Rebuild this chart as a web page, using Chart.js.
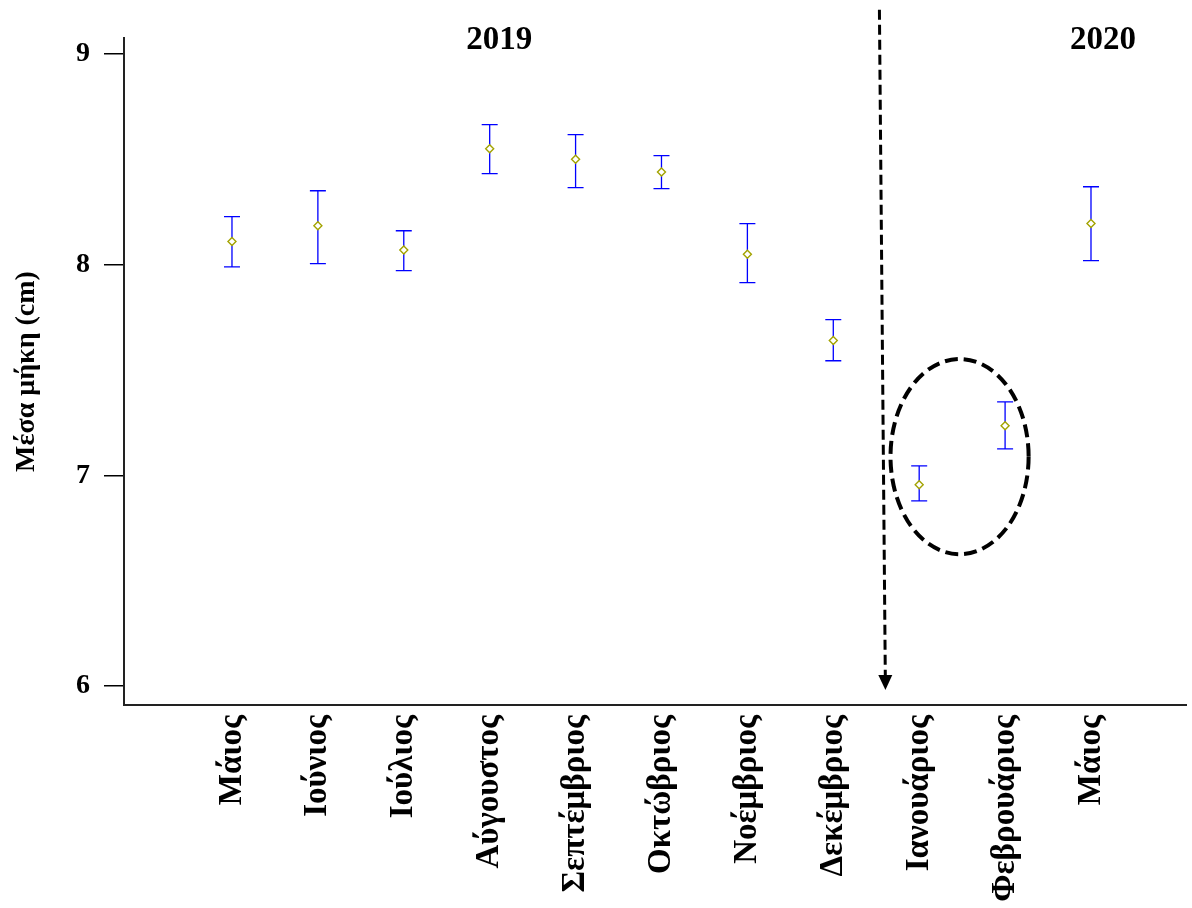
<!DOCTYPE html>
<html>
<head>
<meta charset="utf-8">
<script src="https://cdn.jsdelivr.net/npm/chart.js@4.4.1/dist/chart.umd.min.js"></script>
<style>
  html, body { margin: 0; padding: 0; background: #fff; }
  #wrap { width: 1192px; height: 908px; }
</style>
</head>
<body>
<div id="wrap"><canvas id="c" width="1192" height="908"></canvas></div>
<script>
// ---- data ----
const months = ["Μάιος", "Ιούνιος", "Ιούλιος", "Αύγουστος", "Σεπτέμβριος", "Οκτώβριος",
                "Νοέμβριος", "Δεκέμβριος", "Ιανουάριος", "Φεβρουάριος", "Μάιος"];
const meanLength = [8.11, 8.185, 8.07, 8.55, 8.50, 8.44, 8.05, 7.64, 6.955, 7.235, 8.195];
const upperCI    = [8.228, 8.351, 8.161, 8.665, 8.617, 8.518, 8.195, 7.739, 7.045, 7.349, 8.370];
const lowerCI    = [7.99, 8.005, 7.972, 8.432, 8.366, 8.361, 7.915, 7.544, 6.879, 7.126, 8.019];
const yTicks = [6, 7, 8, 9];
const yearLabels = ["2019", "2020"];

const FONT = '"Liberation Serif", "Times New Roman", serif';

const points = months.map((m, i) => ({ x: i, y: meanLength[i] }));

// error bars drawn through the scales
const errorBars = {
  id: 'errorBars',
  beforeDatasetsDraw(chart) {
    const { ctx, scales: { x, y } } = chart;
    ctx.save();
    ctx.strokeStyle = '#0000ff';
    ctx.lineWidth = 1.3;
    months.forEach((m, i) => {
      const px = x.getPixelForValue(i);
      const yt = y.getPixelForValue(upperCI[i]);
      const yb = y.getPixelForValue(lowerCI[i]);
      ctx.beginPath();
      ctx.moveTo(px, yt); ctx.lineTo(px, yb);
      ctx.moveTo(px - 8, yt); ctx.lineTo(px + 8, yt);
      ctx.moveTo(px - 8, yb); ctx.lineTo(px + 8, yb);
      ctx.stroke();
    });
    ctx.restore();
  }
};

// annotations: year labels, dashed arrow, dashed ellipse
const annotations = {
  id: 'annotations',
  afterDraw(chart) {
    const { ctx, scales: { x, y } } = chart;
    ctx.save();
    ctx.fillStyle = '#000';
    ctx.font = 'bold 33px ' + FONT;
    ctx.textAlign = 'center';
    ctx.textBaseline = 'middle';
    ctx.fillText(yearLabels[0], x.getPixelForValue(3.11), y.getPixelForValue(9.062));
    ctx.fillText(yearLabels[1], x.getPixelForValue(10.14), y.getPixelForValue(9.062));

    // dashed arrow between December and January
    const ax0 = x.getPixelForValue(7.537), ay0 = y.getPixelForValue(9.21);
    const ax1 = x.getPixelForValue(7.607), ay1 = y.getPixelForValue(5.981);
    const ang = Math.atan2(ay1 - ay0, ax1 - ax0);
    const headLen = 15, headHalf = 7;
    const bx = ax1 - headLen * Math.cos(ang), by = ay1 - headLen * Math.sin(ang);
    ctx.strokeStyle = '#000';
    ctx.lineWidth = 3;
    ctx.setLineDash([10, 5]);
    ctx.beginPath();
    ctx.moveTo(ax0, ay0); ctx.lineTo(bx, by);
    ctx.stroke();
    ctx.setLineDash([]);
    ctx.beginPath();
    ctx.moveTo(ax1, ay1);
    ctx.lineTo(bx + headHalf * Math.sin(ang), by - headHalf * Math.cos(ang));
    ctx.lineTo(bx - headHalf * Math.sin(ang), by + headHalf * Math.cos(ang));
    ctx.closePath();
    ctx.fill();

    // dashed ellipse around January / February
    const cx = x.getPixelForValue(8.47), cy = y.getPixelForValue(7.089);
    const rx = Math.abs(x.getPixelForValue(8.47 + 0.804) - cx);
    const ry = Math.abs(y.getPixelForValue(7.089 + 0.463) - cy);
    ctx.lineWidth = 4;
    ctx.setLineDash([13, 6]);
    ctx.beginPath();
    ctx.ellipse(cx, cy, rx, ry, 0, 0, Math.PI * 2);
    ctx.stroke();
    ctx.restore();
  }
};

new Chart(document.getElementById('c'), {
  type: 'scatter',
  data: {
    datasets: [{
      data: points,
      pointStyle: 'rectRot',
      pointRadius: 4,
      pointHoverRadius: 4,
      pointBorderWidth: 1.4,
      borderColor: '#a3a300',
      backgroundColor: '#ffffff',
      showLine: false
    }]
  },
  options: {
    responsive: false,
    animation: false,
    devicePixelRatio: 1,
    layout: { padding: { top: 38, right: 0, left: 0, bottom: 0 } },
    plugins: { legend: { display: false }, tooltip: { enabled: false } },
    scales: {
      x: {
        type: 'linear',
        min: -1.257,
        max: 11.113,
        afterFit(scale) { scale.height = 203; },
        afterBuildTicks(scale) { scale.ticks = months.map((m, i) => ({ value: i })); },
        grid: { display: false, drawTicks: false },
        border: { display: true, color: '#222', width: 2 },
        ticks: {
          autoSkip: false,
          minRotation: 90,
          maxRotation: 90,
          padding: 10,
          color: '#000',
          font: { family: FONT, size: 33, weight: 'bold' },
          callback: (v) => months[v] !== undefined ? months[v] : ''
        }
      },
      y: {
        min: 5.91,
        max: 9.076,
        afterFit(scale) { scale.width = 124; },
        afterBuildTicks(scale) { scale.ticks = yTicks.map(v => ({ value: v })); },
        grid: { display: true, drawOnChartArea: false, drawTicks: true, tickLength: 20, color: '#000', lineWidth: 1.5 },
        border: { display: true, color: '#222', width: 2 },
        title: {
          display: true,
          text: 'Μέσα μήκη (cm)',
          color: '#000',
          font: { family: FONT, size: 28, weight: 'bold' },
          padding: { top: 10, bottom: 0 }
        },
        ticks: {
          padding: 14,
          color: '#000',
          font: { family: FONT, size: 28, weight: 'bold' },
          callback: (v) => String(v)
        }
      }
    }
  },
  plugins: [errorBars, annotations]
});
</script>
</body>
</html>
